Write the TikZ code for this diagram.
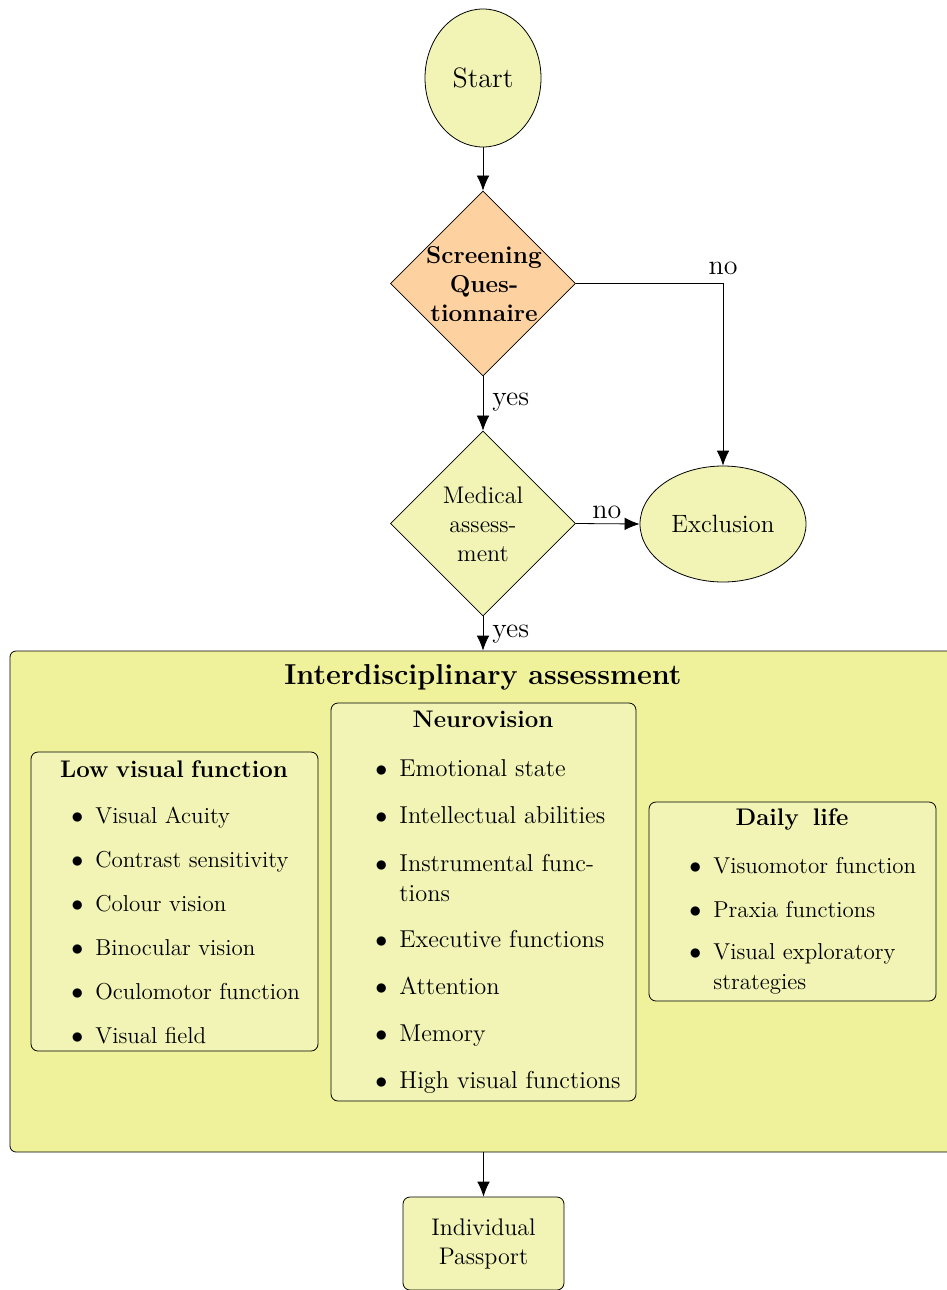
\documentclass[tikz,border=0pt]{standalone}
\usetikzlibrary{shapes.geometric,arrows.meta}
\definecolor{lightyel}{RGB}{241,244,180}
\definecolor{bigyel}{RGB}{239,242,154}
\definecolor{peach}{RGB}{253,210,160}
\begin{document}
\begin{tikzpicture}[x=0.5pt,y=-0.5pt,
  norm/.style={font=\fontsize{12}{14.5}\selectfont},
  term/.style={ellipse,draw,fill=lightyel,inner sep=0pt,norm},
  dec/.style={diamond,draw,minimum width=92.5pt,minimum height=92.5pt,inner sep=0pt},
  dectext/.style={align=center,inner sep=0pt},
  roundbox/.style={rectangle,draw,rounded corners=3.5pt,fill=lightyel,inner sep=0pt},
  boxtitle/.style={font=\fontsize{12}{14.5}\selectfont\bfseries,inner sep=0pt},
  listitem/.style={anchor=base west,inner sep=0pt,align=left,font=\fontsize{11.5}{15}\selectfont},
  biglistitem/.style={listitem,font=\fontsize{12.2}{15}\selectfont},
  lbl/.style={font=\fontsize{14}{17}\selectfont,inner sep=0pt},
  arr/.style={-{Latex[length=7.5pt,width=6.3pt]},line width=0.4pt}
]
\useasboundingbox (0,0) rectangle (947,1290);
\clip (0,0) rectangle (947,1290);

% flow nodes
\node[term,minimum width=58pt,minimum height=69pt,font=\fontsize{14}{17}\selectfont] (start) at (483,78) {Start};
\node[dec,fill=peach] (scr) at (483,283.5) {};
\node[dectext,font=\fontsize{12.2}{14.5}\selectfont\bfseries] (scrtext) at (484,284) {Screening\\Ques-\\tionnaire};
\node[dec,fill=lightyel] (med) at (483,523.5) {};
\node[dectext,norm] (medtext) at (483,524.5) {Medical\\assess-\\ment};
\node[term,minimum width=83pt,minimum height=58pt,font=\fontsize{12.5}{15}\selectfont] (excl) at (723,524) {Exclusion};

% big box
\node[rectangle,draw,rounded corners=3pt,fill=bigyel,minimum width=473pt,minimum height=250.5pt] (big) at (483,901.5) {};
\node[font=\fontsize{14.4}{17}\selectfont\bfseries,inner sep=0pt] (bigtitle) at (483,677) {Interdisciplinary assessment};

% sub boxes
\node[roundbox,minimum width=143.5pt,minimum height=149.5pt] (low) at (174.5,901.5) {};
\node[roundbox,minimum width=152.5pt,minimum height=199pt] (neuro) at (483.5,902) {};
\node[roundbox,minimum width=143.5pt,minimum height=99.5pt] (daily) at (792.5,901.5) {};

\node[boxtitle] (lowtitle) at (174,769) {Low\hspace{3.6pt}visual\hspace{3.6pt}function};
\node[boxtitle] (neurotitle) at (483,719) {Neurovision};
\node[boxtitle] (dailytitle) at (792,819) {Daily\hspace{7pt}life};

\newcommand{\bul}{\llap{$\bullet$\hspace{6pt}}}
\foreach \t/\y [count=\i] in {Visual Acuity/823,Contrast sensitivity/867,Colour vision/911,Binocular vision/955,Oculomotor function/999,Visual field/1043}
  \node[listitem] (lowitem\i) at (95,\y) {\bul\t};
\foreach \t/\y [count=\i] in {Emotional state/776,Intellectual abilities/823,{Instrumental func-\\tions}/901,Executive functions/947,Attention/994,Memory/1041,High visual functions/1088}
  \node[biglistitem] (neuroitem\i) at (399,\y) {\bul\t};
\foreach \t/\y [count=\i] in {Visuomotor function/873,Praxia functions/917,{Visual exploratory\\strategies}/989}
  \node[listitem] (dailyitem\i) at (713,\y) {\bul\t};

% passport
\node[roundbox,minimum width=80.5pt,minimum height=46.5pt,align=center,norm] (pass) at (483.5,1243.5) {Individual\\Passport};

% connectors
\draw[arr] (start) -- (scr);
\draw[arr] (scr) -- node[lbl,anchor=west,xshift=4.5pt,yshift=0.5pt] {yes} (med);
\draw[arr] (scr.east) -| node[lbl,pos=0.5,anchor=south,yshift=4pt] {no} (excl.north);
\draw[arr] (med.east) -- node[lbl,anchor=south,yshift=2.5pt,xshift=-0.5pt] {no} (excl.west);
\draw[arr] (med.south) -- node[lbl,anchor=west,xshift=4.5pt,yshift=-0.5pt] {yes} (big.north -| med.south);
\draw[arr] (big.south -| pass.north) -- (pass.north);
\end{tikzpicture}
\end{document}
